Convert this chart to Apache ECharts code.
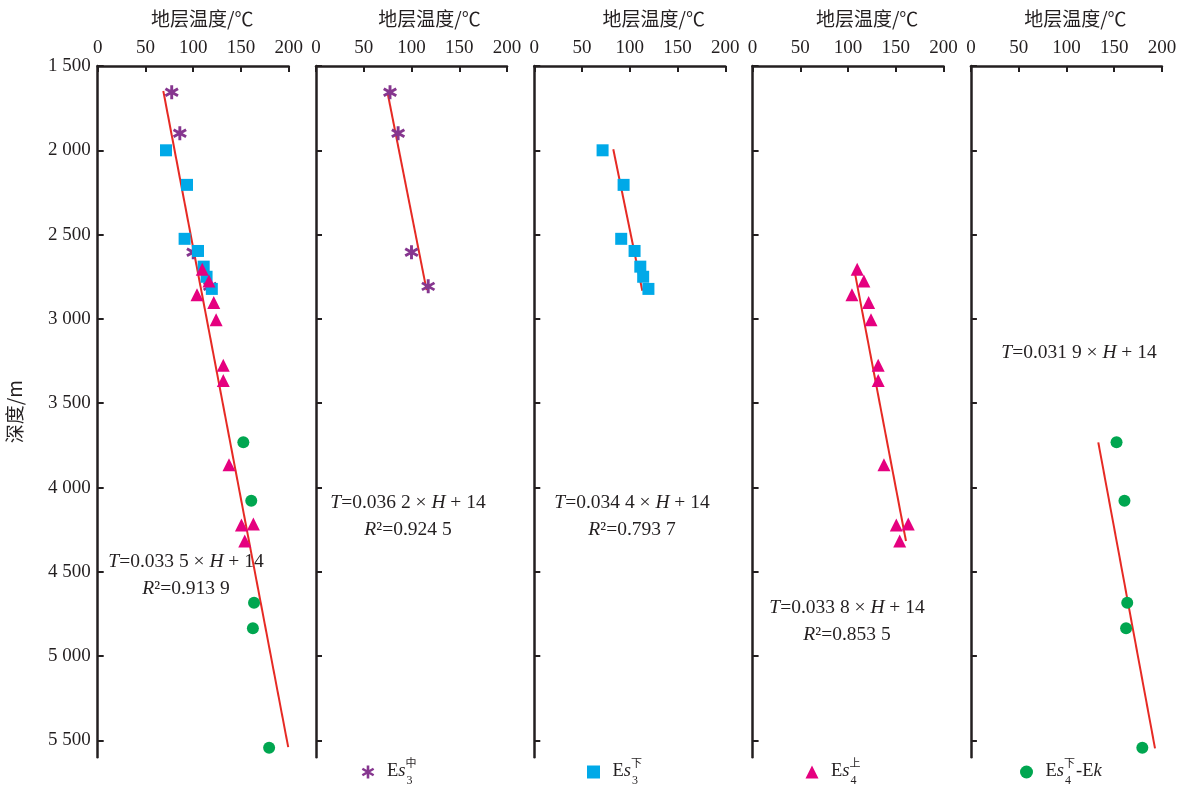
<!DOCTYPE html>
<html>
<head>
<meta charset="utf-8">
<script src="https://cdn.jsdelivr.net/npm/echarts@6/dist/echarts.min.js"></script>
<style>html,body{margin:0;padding:0;background:#fff}#c{width:1200px;height:786px}</style>
</head>
<body>
<div id="c"></div>
<script>
// ---- data (temperature °C, depth m) ----
const tempTicks = [0, 50, 100, 150, 200];
const depthTicks = [1500, 2000, 2500, 3000, 3500, 4000, 4500, 5000, 5500];
const seriesNames = ['Es3中', 'Es3下', 'Es4上', 'Es4下-Ek'];
const es3Mid = [[77.5, 1656], [86, 1899], [100, 2605], [117.5, 2807]];
const es3Low = [[71.5, 2000], [93.5, 2205], [91, 2525], [105, 2597], [111, 2690], [114, 2750], [119.5, 2822]];
const es4Up = [[109.5, 2705], [116.5, 2775], [104, 2857], [121.5, 2903], [124, 3005], [131.5, 3275], [131.5, 3365], [137.5, 3865], [150.5, 4222], [163, 4216], [154, 4317]];
const es4LowEk = [[152.5, 3732], [160.8, 4078], [163.7, 4683], [162.5, 4835], [179.5, 5543]];
const fitAll = [[68.7, 1648], [199.5, 5540]];
const fitEs3Mid = [[75, 1660], [115.8, 2829]];
const fitEs3Low = [[82.7, 1994], [113.1, 2833]];
const fitEs4Up = [[107.2, 2730], [160.6, 4317]];
const fitEs4LowEk = [[133.4, 3732], [192.8, 5547]];
const eqT = ['0.033 5', '0.036 2', '0.034 4', '0.033 8', '0.031 9'];
const eqR2 = ['0.913 9', '0.924 5', '0.793 7', '0.853 5', null];
const xTitle = '地层温度/℃';
const yTitle = '深度/m';

// ---- layout / style ----
const SERIF = '"Liberation Serif","DejaVu Serif",serif';
const CJK = '"Noto Sans CJK SC","Noto Sans",sans-serif';
const INK = '#231F20';
const panelLeft = [97.7, 316, 534.3, 752.6, 970.9];
const panelW = 191, panelTop = 66, panelH = 691.3;
const titleOffset = [9, 18, 24, 19, 9];
const eqPos = [[186, 562, 589], [408, 503, 530], [632, 503, 530], [847, 608, 635], [1079, 353, null]];
const colors = ['#86368F', '#00A9E8', '#E5007F', '#00A650'];
const symbols = [
  'path://M-2,-10L2,-10L2,10L-2,10Z M-9.66,-3.27L-7.66,-6.73L9.66,3.27L7.66,6.73Z M-7.66,6.73L-9.66,3.27L7.66,-6.73L9.66,-3.27Z',
  'rect', 'triangle', 'circle'];
const symSizes = [14, 12, 13, 12];
const legendX = [368, 593.5, 812, 1026.5];
const legendSup = ['中', '下', '上', '下'];
const legendSub = ['3', '3', '4', '4'];

const grids = [], xAxes = [], yAxes = [], series = [];
for (let i = 0; i < 5; i++) {
  grids.push({left: panelLeft[i], top: panelTop, width: panelW, height: panelH, containLabel: false, outerBoundsMode: 'none'});
  xAxes.push({
    type: 'value', gridIndex: i, position: 'top', min: 0, max: 200, interval: 50,
    name: xTitle, nameLocation: 'middle', nameGap: 38, nameMoveOverlap: false,
    nameTextStyle: {fontFamily: CJK, fontSize: 19, color: INK, padding: [0, 0, 0, titleOffset[i] * 2]},
    axisLine: {show: true, onZero: false, lineStyle: {color: INK, width: 2.5}},
    axisTick: {show: true, inside: true, length: 6, lineStyle: {color: INK, width: 2}},
    axisLabel: {show: true, margin: 8, fontFamily: SERIF, fontSize: 19, color: INK},
    splitLine: {show: false}
  });
  yAxes.push({
    type: 'value', gridIndex: i, inverse: true, min: 1500, max: 5600, interval: 500,
    name: i === 0 ? yTitle : '', nameLocation: 'middle', nameGap: 73, nameRotate: 90, nameMoveOverlap: false,
    nameTextStyle: {fontFamily: CJK, fontSize: 19, color: INK, padding: [0, 0, 0, 0]},
    axisLine: {show: true, onZero: false, lineStyle: {color: INK, width: 2.5}},
    axisTick: {show: true, inside: true, length: 6, customValues: depthTicks, lineStyle: {color: INK, width: 2}},
    axisLabel: {show: i === 0, margin: 7, fontFamily: SERIF, fontSize: 19, color: INK,
      customValues: depthTicks,
      formatter: v => String(v).replace(/(\d)(\d{3})$/, '$1 $2')},
    splitLine: {show: false}
  });
}
const groups = [es3Mid, es3Low, es4Up, es4LowEk];
const fits = [fitEs3Mid, fitEs3Low, fitEs4Up, fitEs4LowEk];
function scatter(k, idx) {
  return {type: 'scatter', name: seriesNames[k], xAxisIndex: idx, yAxisIndex: idx, data: groups[k],
    symbol: symbols[k], symbolSize: symSizes[k], itemStyle: {color: colors[k], opacity: 1}, z: 3};
}
function fitLine(data, idx) {
  return {type: 'line', xAxisIndex: idx, yAxisIndex: idx, data: data, symbol: 'none', silent: true,
    lineStyle: {color: '#E62A24', width: 2}, z: 2};
}
series.push(fitLine(fitAll, 0));
for (let k = 0; k < 4; k++) series.push(scatter(k, 0));
for (let k = 0; k < 4; k++) { series.push(fitLine(fits[k], k + 1)); series.push(scatter(k, k + 1)); }

const legends = seriesNames.map((n, k) => ({
  data: [n], left: legendX[k] - 6.5, top: 765.5, itemWidth: 13, itemHeight: 13,
  formatter: () => '', selectedMode: false, padding: 0, itemGap: 0
}));

const graphic = [];
const EQ = 19.5;
const richI = {fontFamily: SERIF, fontSize: EQ, fontStyle: 'italic', fill: INK};
const richL = {fontFamily: SERIF, fontSize: 18.5, fontStyle: 'italic', fill: INK};
for (let i = 0; i < 5; i++) {
  graphic.push({type: 'text', x: eqPos[i][0], y: eqPos[i][1], silent: true,
    style: {text: '{i|T}=' + eqT[i] + ' × {i|H} + 14', align: 'center', verticalAlign: 'middle',
      fontFamily: SERIF, fontSize: EQ, fill: INK, rich: {i: richI}}});
  if (eqR2[i]) graphic.push({type: 'text', x: eqPos[i][0], y: eqPos[i][2], silent: true,
    style: {text: '{i|R}²=' + eqR2[i], align: 'center', verticalAlign: 'middle',
      fontFamily: SERIF, fontSize: EQ, fill: INK, rich: {i: richI}}});
}
for (let k = 0; k < 4; k++) {
  const xE = legendX[k] + 19;
  graphic.push({type: 'text', x: xE, y: 771, silent: true,
    style: {text: 'E{i|s}', verticalAlign: 'middle', fontFamily: SERIF, fontSize: 18.5, fill: INK, rich: {i: richL}}});
  graphic.push({type: 'text', x: xE + 18.5, y: 763, silent: true,
    style: {text: legendSup[k], verticalAlign: 'middle', fontFamily: CJK, fontSize: 11, fill: INK}});
  graphic.push({type: 'text', x: xE + 19.5, y: 781, silent: true,
    style: {text: legendSub[k], verticalAlign: 'middle', fontFamily: SERIF, fontSize: 12, fill: INK}});
  if (k === 3) graphic.push({type: 'text', x: xE + 30.5, y: 771, silent: true,
    style: {text: '-E{i|k}', verticalAlign: 'middle', fontFamily: SERIF, fontSize: 18.5, fill: INK, rich: {i: richL}}});
}

const chart = echarts.init(document.getElementById('c'), null, {renderer: 'canvas'});
chart.setOption({
  backgroundColor: '#ffffff',
  animation: false,
  grid: grids, xAxis: xAxes, yAxis: yAxes, series: series,
  legend: legends, graphic: graphic
});
</script>
</body>
</html>
